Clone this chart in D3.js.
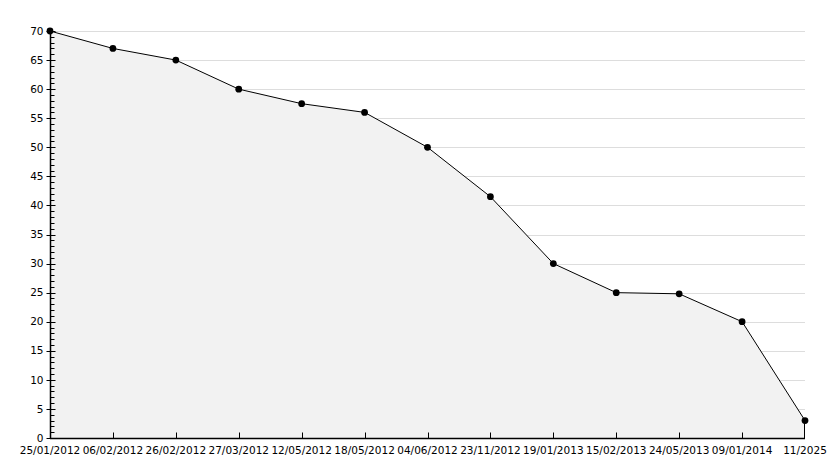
<html>
<meta charset="utf-8">
<head>
<script src="https://d3js.org/d3.v7.min.js"></script>
<style>
  body { margin: 0; background: #fff; }
  text { font-family: "DejaVu Sans", sans-serif; font-size: 10.5px; fill: #000; }
</style>
</head>
<body>
<div id="chart"></div>
<script>
// dates along the bottom and the value at each
var dates = ["25/01/2012", "06/02/2012", "26/02/2012", "27/03/2012", "12/05/2012", "18/05/2012",
             "04/06/2012", "23/11/2012", "19/01/2013", "15/02/2013", "24/05/2013", "09/01/2014", "11/2025"];
var values = [70, 67, 65, 60, 57.5, 56, 50, 41.5, 30, 25, 24.8, 20, 3];
var yTicks = [0, 5, 10, 15, 20, 25, 30, 35, 40, 45, 50, 55, 60, 65, 70];

var W = 834, H = 468;
var margin = {top: 31, right: 29, bottom: 30, left: 50},
    width = W - margin.left - margin.right,
    height = H - margin.top - margin.bottom;

var svg = d3.select("#chart").append("svg")
    .attr("width", W).attr("height", H)
  .append("g")
    .attr("transform", "translate(" + margin.left + "," + margin.top + ")");

var x = d3.scalePoint().domain(dates).range([0, width]);
var y = d3.scaleLinear().domain([0, 70]).range([height, 0]);

var data = dates.map(function(d, i) { return {date: d, value: values[i]}; });

// grid
svg.append("g")
  .selectAll("line")
  .data(yTicks.filter(function(t) { return t > 0; }))
  .enter().append("line")
    .attr("x1", 0).attr("x2", width)
    .attr("y1", function(d) { return Math.round(y(d)) + 0.5; })
    .attr("y2", function(d) { return Math.round(y(d)) + 0.5; })
    .attr("stroke", "#dddddd");

// area under the line
var area = d3.area()
    .x(function(d) { return x(d.date); })
    .y0(height)
    .y1(function(d) { return y(d.value); });
svg.append("path")
    .datum(data)
    .attr("d", area)
    .attr("fill", "#f2f2f2");

// line
var line = d3.line()
    .x(function(d) { return x(d.date); })
    .y(function(d) { return y(d.value); });
svg.append("path")
    .datum(data)
    .attr("d", line)
    .attr("fill", "none")
    .attr("stroke", "#000")
    .attr("stroke-width", 1);

// right edge of area
var last = data[data.length - 1];
svg.append("line")
    .attr("x1", x(last.date) - 0.5).attr("x2", x(last.date) - 0.5)
    .attr("y1", y(last.value)).attr("y2", height)
    .attr("stroke", "#000");

// y axis: major ticks outward, minor ticks inward
var yAxis = svg.append("g").attr("transform", "translate(0.5,0)");
yAxis.append("line")
    .attr("x1", 0).attr("x2", 0).attr("y1", 0).attr("y2", height)
    .attr("stroke", "#000").attr("stroke-width", 1.5);
yAxis.selectAll(".minor")
  .data(d3.range(0, 71))
  .enter().append("line")
    .attr("class", "minor")
    .attr("x1", 0).attr("x2", function(d) { return d % 5 === 0 ? 5 : 4; })
    .attr("y1", function(d) { return Math.round(y(d)) + 0.5; })
    .attr("y2", function(d) { return Math.round(y(d)) + 0.5; })
    .attr("stroke", "#000");
yAxis.selectAll(".major")
  .data(yTicks)
  .enter().append("line")
    .attr("class", "major")
    .attr("x1", -4).attr("x2", 0)
    .attr("y1", function(d) { return Math.round(y(d)) + 0.5; })
    .attr("y2", function(d) { return Math.round(y(d)) + 0.5; })
    .attr("stroke", "#000");
yAxis.selectAll("text")
  .data(yTicks)
  .enter().append("text")
    .attr("x", -7)
    .attr("y", function(d) { return y(d); })
    .attr("dy", "0.35em")
    .attr("text-anchor", "end")
    .text(function(d) { return d; });

// x axis
var xAxis = svg.append("g").attr("transform", "translate(0," + (height + 0.5) + ")");
xAxis.append("line")
    .attr("x1", 0).attr("x2", width)
    .attr("stroke", "#000").attr("stroke-width", 1.5);
xAxis.selectAll(".tick")
  .data(dates.slice(1, -1))
  .enter().append("line")
    .attr("class", "tick")
    .attr("x1", function(d) { return Math.round(x(d)) + 0.5; })
    .attr("x2", function(d) { return Math.round(x(d)) + 0.5; })
    .attr("y1", 0).attr("y2", -6)
    .attr("stroke", "#000");
xAxis.selectAll("text")
  .data(dates)
  .enter().append("text")
    .attr("x", function(d) { return x(d); })
    .attr("y", 15)
    .attr("text-anchor", "middle")
    .text(function(d) { return d; });

// markers
svg.append("g")
  .selectAll("path")
  .data(data)
  .enter().append("path")
    .attr("transform", function(d) { return "translate(" + x(d.date) + "," + y(d.value) + ")"; })
    .attr("d", d3.symbol().type(d3.symbolCircle).size(36))
    .attr("fill", "#000");
</script>
</body>
</html>
